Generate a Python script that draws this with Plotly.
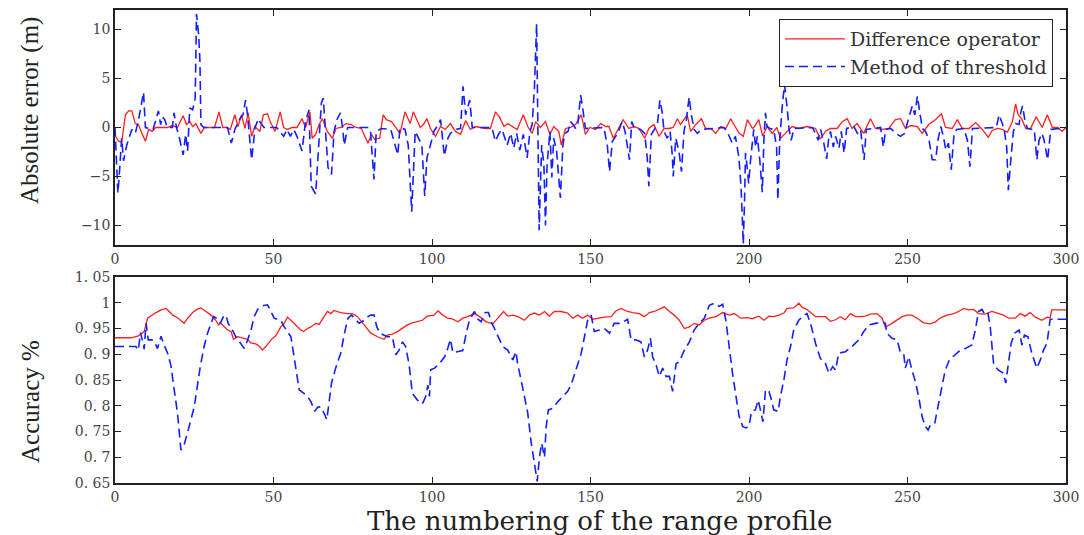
import plotly.graph_objects as go

# ---------------- data ----------------
# Top panel: absolute error (m)
err_diff_x = [0.2,1.1,2.1,3.3,4.3,5.3,6.4,7.4,8.5,9.6,10.6,11.7,12.8,14.9,16.5,18.1,19.7,21.5,22.6,23.6,24.5,25.5,27.1,28.2,31.4,32.8,34,35.1,36.4,37.8,38.8,39.9,41,42,43.1,44.1,45.7,46.8,48.1,49.1,50.5,52.1,53.2,54.3,55.9,57.4,59.0,60.1,61.5,62.2,63.3,64.4,65.4,67,68.6,69.7,71.3,72.9,74.5,76.1,77.7,79.8,80.9,81.9,83.5,84.6,85.6,87.2,88.3,89.9,91.5,93.1,94.1,95.2,96.3,97.3,98.4,
              99.5,101.1,102.7,104.2,105.8,107.4,109,110.6,112.1,113.7,115.3,116.9,118.4,120,121.4,122.7,123.9,125.3,126.9,128.8,130.2,131.6,132.7,134.2,135.8,137.2,138.4,140,140.8,142.1,143.7,145.3,147.1,148.4,149.8,151.6,153.2,154.8,155.8,157.2,158.4,160.3,162.1,163.7,165.3,167.1,168.4,170,171.6,173.2,174.8,176.1,177.4,178.4,180.5,181.6,183.2,185,186.3,187.9,189.5,191.1,192.7,194.2,195.8,196.9,198.2,199.5,201.1,
              201.5,203.1,204.3,205.7,207.3,208.8,209.9,211.5,213.6,215.7,218.3,221,222.5,224.1,225.7,227.8,229.4,231,232.5,234.1,236.2,238.3,239.9,242,244.1,246.2,247.8,249.4,251,253.1,254.6,256.7,258.8,260.7,262,264.1,265.7,267.3,269.4,271.5,273.6,275.5,276.7,278.3,279.9,281.5,283.1,284.1,284.9,286,287.3,288.8,290.6,292.5,294.1,295.7,297.3,298.8,300]
err_diff_y = [-0.9,-1.4,-1.5,1.3,1.7,1.7,0.4,0.3,-0.6,-1.4,-0.2,-0.4,0,0,0,0.2,0,1.2,0.3,0.6,0.1,0.4,-0.6,0,0,1.6,0,0,-0.2,1.3,0.1,1.3,-0.1,1.5,-0.9,0.1,-0.4,1.3,1.4,0.5,-0.4,1.6,0,-0.2,0,0,0.9,0,1.6,-1.1,-0.7,0.3,0.9,-0.4,-1.1,-0.1,0,0.4,0.3,0,-0.1,-1.6,-0.7,-1.2,-1.1,1.3,0.8,0.6,0.1,-0.6,1.6,0.4,1.6,0.8,0,0.3,0.9,
              -0.1,-0.9,0.1,-0.2,0.4,-0.4,-0.7,0.7,-0.2,0.1,0,-0.1,-0.1,1.6,1.0,0.1,0.4,0.1,-0.2,1.3,0.1,-0.6,0.6,0,0.6,-0.7,0.1,-0.4,-1.8,-0.1,0,0.3,1.3,-0.7,0,-0.2,0.4,0.1,0.1,-1.1,-0.4,0.8,-0.1,0.1,-0.1,-1.1,-0.1,0.3,-0.9,-0.1,-0.1,0,0.9,0.3,1.3,-0.4,0.3,0.9,-0.1,-0.1,-0.6,0.1,-0.1,0.9,0,-0.6,-0.9,0.8,-0.1,
              0,0.8,-0.9,0.1,-0.6,0,-1.1,-0.6,0.1,-0.1,0.1,-0.1,-1.2,-0.4,-0.1,-0.1,0.6,0.9,-0.1,0.4,-0.6,0.9,-0.1,-0.2,-0.1,0.8,0.9,-0.1,0.2,0.1,-0.6,0.3,0.8,1.4,0,-0.1,0.8,-0.1,-0.1,0.5,-0.2,-1.0,-0.3,-0.1,-0.2,-0.5,0.6,2.4,1.3,0.9,-0.1,-0.1,1.1,0,1.3,0,0,-0.4,0]

err_thr_x = [0,0.9,1.3,2.1,2.7,3.7,5.3,6.4,7.5,9.0,9.6,12,13.7,14.4,14.9,15.7,16.5,18.1,18.6,19.4,20.2,21.5,22.3,22.9,23.6,24.5,25.3,25.7,26.4,26.8,27.1,28,35.5,36.7,37.8,39.4,40.4,41.2,41.8,42.6,43.1,44.2,45.2,45.7,47,51,53.2,54.3,55.3,56.4,57.4,59.0,60.1,61.2,61.9,63.3,64.4,65.1,65.7,66.5,67.2,68.3,69.1,70,71.1,71.8,72.3,73.4,80,80.6,81.7,82.4,84,87,89.2,89.9,91.5,92.5,93.6,94.7,95.7,96.8,97.7,98.4,99.5,
             100.6,101.6,102.7,103.9,105,105.8,107.4,109,109.8,110.6,111.3,111.9,112.7,118.9,120,121.1,122.1,123.7,124.8,125.8,126.7,127.7,128.8,130,130.9,131.6,132.3,133,133.8,134.6,135.3,135.8,136.3,137.2,137.8,138.4,139.3,140.5,141.3,141.9,142.9,143.7,144.5,145.3,146,146.9,147.7,148.4,154.2,155.3,156,156.9,158.4,160,160.9,161.6,162.3,163,163.9,165.8,167.1,167.9,168.4,169.2,170.2,171.1,171.9,172.6,173.2,174.2,175.1,175.8,176.1,176.9,177.9,178.7,179.5,180.3,181.1,181.8,182.7,183.7,185,192,
             193.1,194.7,195.7,196.8,197.5,198.2,198.6,198.9,199.4,199.9,200.5,201,201.5,202.1,202.6,203.4,204.2,204.7,205.2,205.7,206.6,207.8,208.7,209.1,209.7,210.5,211.2,212.1,212.6,213.3,214.2,220,221,221.8,222.6,223.6,224.5,225.2,225.7,226.6,227.3,228.4,229.1,230,230.8,233.1,234.2,235.2,236.3,237,241.5,242.4,243.1,244.7,246.3,247.8,249.1,249.9,251.5,252.3,253.1,253.9,254.7,255.7,256.8,257.8,258.9,259.6,260.5,261.3,262.1,262.9,263.8,264.7,265.5,267.8,268.9,269.7,270.5,278,278.9,279.9,280.5,281.3,281.8,282.6,283.4,284.2,285.2,285.7,286.3,287,287.8,290,290.8,291.5,292.4,293.1,294.2,295.2,300]
err_thr_y = [0,-6.7,-5.1,-1.1,-3.4,-1.8,-0.2,-0.6,0.9,3.6,0,-0.2,1.7,0.3,1.1,0.8,0,0,1.5,0,-0.9,-2.8,-0.7,-2.4,2.0,1.8,3.0,11.6,9.4,6.7,0.3,0,0,-1.6,-0.2,0.9,1.3,2.8,1.3,-1.1,-3.3,0,0.9,0.6,0,0,-0.9,-0.2,-0.9,-0.2,-0.9,-2.4,0.6,1.8,-6.0,-6.8,-0.4,2.5,3.0,-1.1,-4.1,-4.8,-0.4,0.8,1.5,0,-1.8,0,0,-0.4,-5.3,-0.4,-0.1,-0.2,-2.8,0,-0.2,-1.8,-8.6,-0.4,-1.1,-1.8,-7.0,-3.1,-1.8,
             -0.4,0.1,0.8,-2.9,-1.1,-0.6,-0.2,-0.1,4.2,1.3,2.0,2.8,0,0,-1.4,-0.6,-0.2,-1.8,-0.6,-2.1,-0.6,-2.3,-0.7,-3.1,-0.4,0.3,4.0,10.6,-10.5,-1.8,-3.8,-10.0,-3.8,-0.4,-5.1,-1.1,-2.4,-7.2,-1.8,-0.6,-0.4,0.6,0.3,-0.1,0.4,3.3,1.6,-0.1,0,-1.8,-4.5,-1.4,-0.7,0.6,-0.4,-1.8,-3.3,0.6,-0.1,-0.2,-0.6,-3.1,-6.0,-0.7,-0.2,0.3,2.8,1.6,-0.4,-1.1,-0.4,-2.8,-5.0,-1.1,-2.4,-4.5,-0.4,0.9,3.1,1.3,-0.2,-0.6,-0.2,0,
             -0.4,-1.6,-0.9,-3.0,-6.1,-11.9,-7.4,-2.6,-4.0,-5.7,-3.3,-1.3,-0.2,-2.0,-0.9,-3.3,-6.6,-1.3,1.5,0.1,-0.1,-0.2,-2.0,-7.4,-1.3,2.2,4.4,1.8,-0.1,-1.3,-0.1,0,-0.6,-1.3,-0.2,-1.6,-3.2,-0.9,-0.4,-2.0,-0.9,-2.1,-0.4,-2.6,-0.1,0.1,-0.6,-0.2,-3.3,-0.2,0,-2.0,-0.2,-0.1,-0.6,-0.9,-0.6,0.4,2.2,1.3,3.2,1.5,-0.1,-0.4,-1.3,-3.3,-3.3,-1.3,0.1,-0.9,-2.3,-1.6,-4.3,-0.6,-0.2,-0.1,-1.3,-4.0,-0.1,0,1.3,0.4,-0.2,-2.0,-6.4,-3.3,-0.4,0.4,0.3,1.5,2.2,0.8,-0.1,-0.2,-3.3,-1.3,-0.6,-1.3,-3.3,-0.2,0]

# Bottom panel: accuracy
acc_diff_x = [0,5,7.2,9.2,10.3,12.4,14.5,16.1,17.1,18.2,19.7,20.8,21.8,22.9,24.5,25.8,27.1,28.7,30.3,31.8,32.6,33.4,34.5,35.5,36.6,37.4,38.7,40.2,41.8,42.9,44.4,45.5,46.5,47.6,49.2,50.7,52.3,53.4,54.4,55.5,57.0,58.6,59.5,60.7,61.8,63.3,64.4,66.0,67.0,68.1,69.1,71.2,73.3,74.9,76.5,78.6,80.7,82.8,84.9,85.9,87.5,89.1,90.7,92.2,93.8,95.4,97.0,98.5,100.6,
              101.9,103.4,105,106.6,108.2,109.7,111.3,113.4,115,117.1,119.2,120.8,122.6,123.9,125.5,127.1,129.2,130.7,132.3,133.9,135.5,137.0,138.6,140.7,142.8,144.4,146,147.5,149.1,150.7,152.3,154.4,156.5,158,159.6,161.7,163.3,165.4,167,168.6,170.1,171.7,173.3,174.9,176.4,178,179.6,181.2,182.7,184.3,185.9,187.5,189.6,191.7,193.8,195.3,197.4,199.5,
              201,203.1,204.7,206.3,207.8,209.4,211,212,214.1,215.7,216.8,218.3,219.9,221,222.5,224.1,225.7,227.3,228.8,230.4,232,233.6,235.1,236.7,238.3,240.4,242,243,244.6,246.7,248.3,249.8,251.4,253.5,255.1,257.2,258.8,259.8,260.9,262.5,264.6,266.1,267.7,269.3,270.9,272.4,274.5,276.6,278.7,280.3,281.9,284,285.6,287.1,288.7,290.3,292.4,294,295,295.5,300]
acc_diff_y = [0.932,0.932,0.935,0.944,0.970,0.979,0.986,0.989,0.983,0.976,0.971,0.966,0.960,0.970,0.981,0.987,0.990,0.983,0.976,0.966,0.957,0.960,0.953,0.947,0.944,0.929,0.934,0.931,0.929,0.922,0.920,0.916,0.908,0.915,0.928,0.936,0.953,0.960,0.972,0.966,0.957,0.947,0.944,0.950,0.953,0.960,0.958,0.973,0.983,0.979,0.985,0.981,0.979,0.979,0.973,0.957,0.941,0.934,0.929,0.937,0.939,0.944,0.950,0.957,0.961,0.963,0.966,0.974,0.976,
              0.984,0.976,0.970,0.968,0.963,0.970,0.973,0.979,0.973,0.963,0.959,0.970,0.983,0.974,0.976,0.973,0.966,0.976,0.980,0.976,0.983,0.974,0.983,0.983,0.980,0.970,0.976,0.970,0.976,0.968,0.970,0.972,0.973,0.984,0.989,0.983,0.981,0.979,0.973,0.981,0.983,0.987,0.992,0.983,0.976,0.966,0.950,0.953,0.960,0.957,0.966,0.970,0.973,0.981,0.976,0.979,0.970,0.971,
              0.969,0.974,0.966,0.974,0.973,0.976,0.980,0.989,0.990,0.999,0.991,0.987,0.979,0.973,0.973,0.973,0.964,0.967,0.973,0.967,0.979,0.973,0.973,0.974,0.978,0.979,0.970,0.953,0.958,0.966,0.973,0.976,0.976,0.968,0.961,0.959,0.963,0.968,0.972,0.976,0.979,0.983,0.989,0.986,0.987,0.979,0.978,0.983,0.979,0.976,0.970,0.970,0.979,0.974,0.981,0.972,0.966,0.972,0.971,0.986,0.986]

acc_thr_x = [0,6.6,7.4,8,8.7,9.2,9.8,10.5,11.6,12.4,13.4,14.5,15.5,16.6,17.6,18.7,19.7,20.8,21.8,23.4,25,25.8,26.9,28.1,29.2,30.3,31.1,32.1,33.2,34.2,35,35.7,36.8,38.1,39.2,40.8,41.8,42.9,43.9,45,46.5,48.1,49.2,50.2,52.3,53.4,55.5,56,57.0,58.1,59.6,60.7,61.8,63,63.9,64.9,66,66.8,67.5,68.3,69.6,71.2,72.5,73.5,74.6,76,77,78.6,79.8,80.7,81.7,82.6,83.6,84.9,85.9,87.5,88.6,89.6,90.7,91.7,92.8,93.8,95.4,97,98,98.7,99.2,99.6,
             100.8,102.4,104,105,105.8,106.6,108.2,109.7,110.8,111.8,113.4,114.5,115.5,116.8,117.8,118.9,119.7,121,122.3,123.9,125.5,126.5,127,128.1,129.2,130.2,131.3,132.3,133.2,133.9,134.6,135.5,136,136.7,138.1,139.7,141.2,142.8,143.9,145.5,147,148.1,149.1,150.2,151.2,152.8,154.4,156,157.5,159.6,161.7,162.8,164.3,165.9,167,168,168.9,169.6,170.7,171.7,172.8,173.8,174.9,175.9,177,178,179.6,181.2,182.7,184.3,185.9,187.5,189,190.6,191.7,192.7,193.8,194.8,195.9,196.9,198,199,
             200,200.8,202,202.9,203.6,204.4,205.2,206.3,207.1,207.8,209.2,209.9,211,212,213.1,214.1,215.7,217.3,218.3,219.4,221,222.5,224.1,225.2,226.4,227.3,228.3,230.4,232.5,234.6,236.2,237.8,239.9,242,243,243.5,245.1,246.7,247.7,248.8,249.3,250.4,251.4,252.5,253.5,254.6,255.6,256.5,257.3,258.6,259.6,260.9,261.9,263.2,264.6,266.1,268.2,270.3,271.4,272.4,273.5,274.5,275.4,276.1,277.2,278.7,280.3,281,281.7,282.7,283.8,285.2,286.1,286.9,288,289.2,290.8,291.9,292.9,294,295,300]
acc_thr_y = [0.915,0.915,0.908,0.942,0.926,0.910,0.960,0.928,0.928,0.925,0.911,0.935,0.918,0.902,0.879,0.831,0.786,0.714,0.724,0.760,0.798,0.831,0.876,0.915,0.941,0.960,0.973,0.970,0.960,0.973,0.976,0.960,0.950,0.934,0.924,0.911,0.927,0.947,0.973,0.987,0.994,0.996,0.983,0.970,0.966,0.953,0.934,0.915,0.870,0.831,0.824,0.818,0.808,0.789,0.797,0.798,0.785,0.773,0.805,0.844,0.873,0.902,0.944,0.970,0.976,0.966,0.960,0.966,0.973,0.976,0.976,0.953,0.941,0.937,0.934,0.934,0.899,0.908,0.924,0.915,0.879,0.824,0.811,0.804,0.818,0.840,0.818,0.870,
             0.873,0.882,0.895,0.912,0.929,0.903,0.905,0.907,0.941,0.966,0.983,0.968,0.963,0.981,0.981,0.960,0.950,0.934,0.915,0.908,0.889,0.905,0.882,0.850,0.818,0.786,0.728,0.689,0.653,0.701,0.727,0.700,0.758,0.792,0.795,0.808,0.818,0.828,0.841,0.870,0.900,0.934,0.966,0.976,0.944,0.947,0.950,0.941,0.960,0.960,0.968,0.928,0.928,0.924,0.895,0.908,0.931,0.895,0.879,0.857,0.873,0.857,0.857,0.828,0.882,0.885,0.908,0.924,0.947,0.960,0.970,0.995,0.999,0.993,0.997,0.966,0.908,0.863,0.818,0.779,0.760,0.757,
             0.760,0.789,0.792,0.811,0.792,0.769,0.831,0.828,0.811,0.792,0.789,0.818,0.850,0.889,0.915,0.947,0.966,0.976,0.979,0.960,0.921,0.892,0.882,0.863,0.876,0.869,0.902,0.905,0.915,0.928,0.944,0.957,0.960,0.963,0.960,0.941,0.931,0.928,0.905,0.902,0.873,0.895,0.869,0.847,0.818,0.779,0.760,0.753,0.763,0.766,0.798,0.837,0.869,0.889,0.897,0.905,0.911,0.918,0.947,0.983,0.987,0.976,0.979,0.953,0.879,0.869,0.863,0.844,0.876,0.921,0.941,0.947,0.918,0.937,0.934,0.902,0.873,0.889,0.908,0.921,0.968,0.968]

series_names = ["Difference operator", "Method of threshold"]
x_ticks = [0, 50, 100, 150, 200, 250, 300]
err_ticks = [-10, -5, 0, 5, 10]
err_tick_text = ["\u221210", "\u22125", "0", "5", "10"]
acc_ticks = [0.65, 0.7, 0.75, 0.8, 0.85, 0.9, 0.95, 1.0, 1.05]
acc_tick_text = ["0. 65", "0. 7", "0. 75", "0. 8", "0. 85", "0. 9", "0. 95", "1", "1. 05"]

# ---------------- figure ----------------
RED = "rgb(255,30,30)"
BLUE = "rgb(20,30,255)"
SERIF = "Liberation Serif"
WIDE = "DejaVu Serif"

fig = go.Figure()
fig.add_trace(go.Scatter(x=err_diff_x, y=err_diff_y, mode="lines", name=series_names[0],
                         line=dict(color=RED, width=1.3), xaxis="x", yaxis="y"))
fig.add_trace(go.Scatter(x=err_thr_x, y=err_thr_y, mode="lines", name=series_names[1],
                         line=dict(color=BLUE, width=1.6, dash="9px,5px"), xaxis="x", yaxis="y"))
fig.add_trace(go.Scatter(x=acc_diff_x, y=acc_diff_y, mode="lines", showlegend=False,
                         line=dict(color=RED, width=1.3), xaxis="x2", yaxis="y2"))
fig.add_trace(go.Scatter(x=acc_thr_x, y=acc_thr_y, mode="lines", showlegend=False,
                         line=dict(color=BLUE, width=1.6, dash="9px,5px"), xaxis="x2", yaxis="y2"))

W, H = 1084, 535
xdom = [115 / W, 1066 / W]
axis_common = dict(showgrid=False, zeroline=False, showline=True, mirror="ticks",
                   linecolor="#222", linewidth=1.5, ticks="inside", ticklen=6,
                   tickcolor="#222", automargin=False,
                   tickfont=dict(family=WIDE, size=14, color="#444"))

fig.update_layout(
    width=W, height=H,
    margin=dict(l=0, r=0, t=0, b=0, autoexpand=False),
    paper_bgcolor="white", plot_bgcolor="white",
    font=dict(family=SERIF, color="#222"),
    xaxis=dict(domain=xdom, range=[0, 300], tickvals=x_ticks, anchor="y", **axis_common),
    yaxis=dict(domain=[1 - 245 / H, 1 - 10 / H], range=[-12, 12], tickvals=err_ticks,
               ticktext=err_tick_text, anchor="x", **axis_common),
    xaxis2=dict(domain=xdom, range=[0, 300], tickvals=x_ticks, anchor="y2", **axis_common),
    yaxis2=dict(domain=[1 - 483 / H, 1 - 277 / H], range=[0.65, 1.05], tickvals=acc_ticks,
                ticktext=acc_tick_text, anchor="x2", **axis_common),
    legend=dict(x=1053 / W, y=1 - 19 / H, xanchor="right", yanchor="top",
                bordercolor="#222", borderwidth=1, bgcolor="white",
                font=dict(family=WIDE, size=19, color="#333"),
                tracegroupgap=0, itemwidth=60),
    annotations=[
        dict(text="Absolute error (m)", x=30 / W, y=1 - 111 / H, xref="paper", yref="paper",
             xanchor="center", yanchor="middle",
             textangle=-90, showarrow=False, font=dict(family=SERIF, size=25, color="#222")),
        dict(text="Accuracy %", x=30 / W, y=1 - 402 / H, xref="paper", yref="paper",
             xanchor="center", yanchor="middle",
             textangle=-90, showarrow=False, font=dict(family=SERIF, size=25, color="#222")),
        dict(text="The numbering of the range profile", x=599 / W, y=1 - 521 / H,
             xref="paper", yref="paper", xanchor="center", yanchor="middle", showarrow=False,
             font=dict(family=WIDE, size=26, color="#222")),
    ],
)

fig.write_html("out.html", config={"displayModeBar": False},
               post_script="document.body.style.margin='0px';")
